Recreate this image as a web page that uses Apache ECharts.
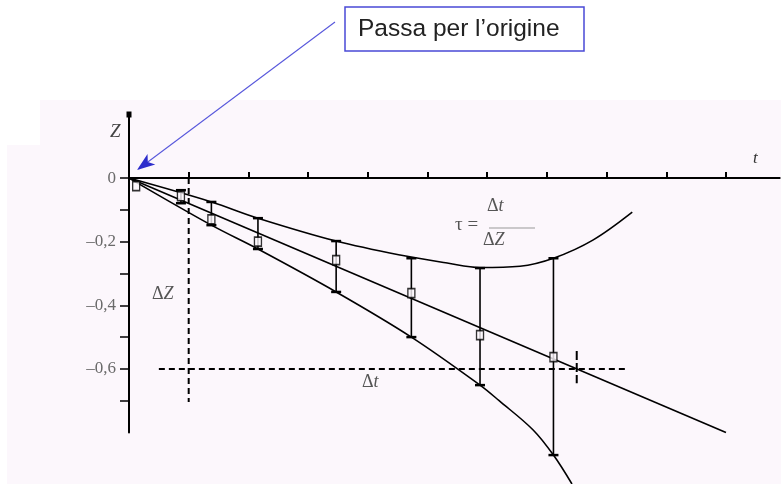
<!DOCTYPE html>
<html>
<head>
<meta charset="utf-8">
<script src="https://cdn.jsdelivr.net/npm/echarts@6/dist/echarts.min.js"></script>
<style>
  html, body { margin: 0; padding: 0; background: #ffffff; }
  #chart { width: 781px; height: 484px; }
</style>
</head>
<body>
<div id="chart"></div>
<script>
// Measured points (t, Z) with their uncertainty range
const tObs  = [0.12, 0.87, 1.38, 2.16, 3.47, 4.73, 5.88, 7.11];
const zObs  = [-0.025, -0.057, -0.13, -0.20, -0.258, -0.362, -0.494, -0.563];
const zHigh = [null, -0.038, -0.075, -0.126, -0.198, -0.252, -0.283, -0.252];
const zLow  = [null, -0.079, -0.148, -0.223, -0.358, -0.50, -0.651, -0.871];

// Best-fit straight line through the origin
const tFit = [0, 10];
const zFit = [0, -0.8];

// Upper envelope of the error bars
const tUpper = [0, 1.38, 2.16, 3.47, 4.54, 5.33, 5.88, 6.55, 7.11, 7.77, 8.43];
const zUpper = [0, -0.075, -0.126, -0.198, -0.242, -0.267, -0.281, -0.277, -0.252, -0.195, -0.107];

// Lower envelope of the error bars
const tLower = [0, 1.38, 2.16, 3.47, 4.73, 5.88, 6.2, 6.77, 7.11, 7.42];
const zLower = [0, -0.148, -0.223, -0.358, -0.50, -0.651, -0.70, -0.792, -0.871, -0.962];

// Construction lines for the slope triangle
const tDeltaZ = [1, 1];        const zDeltaZ = [0, -0.704];
const tDeltaT = [0.5, 8.34];   const zDeltaT = [-0.6, -0.6];
const tCross  = [7.5, 7.5];    const zCross  = [-0.544, -0.645];

// Axis ticks and labels
const xTickValues = [1, 2, 3, 4, 5, 6, 7, 8, 9, 10];
const yTickValues = [0, -0.1, -0.2, -0.3, -0.4, -0.5, -0.6, -0.7];
const yLabelValues = [0, -0.2, -0.4, -0.6];
const yLabelTexts  = ['0', '\u20130,2', '\u20130,4', '\u20130,6'];

const pairs = (xs, ys) => xs.map((x, i) => [x, ys[i]]);
const serif = '"Liberation Serif", "DejaVu Serif", serif';
const richItalic = { i: { fontStyle: 'italic', fontSize: 18, fontFamily: serif, fill: '#555' } };

const chart = echarts.init(document.getElementById('chart'), null, { renderer: 'canvas' });

const errorData = tObs.map((t, i) => [t, zHigh[i], zLow[i]]).filter(d => d[1] !== null);

const option = {
  backgroundColor: '#ffffff',
  animation: false,
  grid: { left: 129, top: 114.5, width: 650.7, height: 318 },
  xAxis: {
    type: 'value', min: 0, max: 10.9,
    axisLine: { onZero: true, lineStyle: { color: '#000', width: 2 } },
    axisTick: { inside: true, length: 6, lineStyle: { color: '#000', width: 2 }, customValues: xTickValues },
    axisLabel: { show: false },
    splitLine: { show: false }
  },
  yAxis: {
    type: 'value', min: -0.8, max: 0.2,
    axisLine: { onZero: false, symbol: ['none', 'rect'], symbolSize: [5, 6], lineStyle: { color: '#000', width: 2 } },
    axisTick: { length: 9, lineStyle: { color: '#000', width: 1.5 }, customValues: yTickValues },
    axisLabel: {
      margin: 13, color: '#6a6a6a', fontFamily: serif, fontSize: 17,
      customValues: yLabelValues,
      formatter: v => {
        const i = yLabelValues.findIndex(u => Math.abs(u - v) < 1e-6);
        return i >= 0 ? yLabelTexts[i] : '';
      }
    },
    splitLine: { show: false }
  },
  series: [
    {
      type: 'line', data: pairs(tUpper, zUpper), smooth: 0.35, symbol: 'none', clip: false,
      lineStyle: { color: '#000', width: 1.6 }
    },
    {
      type: 'line', data: pairs(tLower, zLower), smooth: 0.35, symbol: 'none', clip: false,
      lineStyle: { color: '#000', width: 1.6 }
    },
    {
      type: 'line', data: pairs(tFit, zFit), symbol: 'none', clip: false,
      lineStyle: { color: '#000', width: 1.6 }
    },
    {
      type: 'line', data: pairs(tDeltaZ, zDeltaZ), symbol: 'none', clip: false,
      lineStyle: { color: '#000', width: 2, type: [6, 4] }
    },
    {
      type: 'line', data: pairs(tDeltaT, zDeltaT), symbol: 'none', clip: false,
      lineStyle: { color: '#000', width: 2, type: [6, 4] }
    },
    {
      type: 'line', data: pairs(tCross, zCross), symbol: 'none', clip: false,
      lineStyle: { color: '#000', width: 2, type: [9, 3] }
    },
    {
      type: 'custom', clip: false, z: 3,
      data: errorData,
      renderItem: (params, api) => {
        const t = api.value(0);
        const top = api.coord([t, api.value(1)]);
        const bot = api.coord([t, api.value(2)]);
        const w = 5;
        return {
          type: 'group',
          children: [
            { type: 'line', shape: { x1: top[0], y1: top[1], x2: bot[0], y2: bot[1] },
              style: { stroke: '#000', lineWidth: 1.6 } },
            { type: 'line', shape: { x1: top[0] - w, y1: top[1], x2: top[0] + w, y2: top[1] },
              style: { stroke: '#000', lineWidth: 2.5 } },
            { type: 'line', shape: { x1: bot[0] - w, y1: bot[1], x2: bot[0] + w, y2: bot[1] },
              style: { stroke: '#000', lineWidth: 2.5 } }
          ]
        };
      }
    },
    {
      type: 'scatter', z: 5, data: pairs(tObs, zObs),
      symbol: 'rect', symbolSize: [7, 9],
      itemStyle: { color: '#fdf8fd', borderColor: '#000', borderWidth: 1.5 }
    }
  ],
  graphic: [
    // faint paper background behind the plot
    { type: 'rect', z: -10, shape: { x: 40, y: 100, width: 741, height: 384 }, style: { fill: '#fcf7fc' } },
    { type: 'rect', z: -10, shape: { x: 7, y: 145, width: 33, height: 339 }, style: { fill: '#fcf7fc' } },
    // axis names
    { type: 'text', x: 110, y: 122, style: { text: 'Z', font: 'italic 19px ' + serif, fill: '#444' } },
    { type: 'text', x: 753, y: 150, style: { text: 't', font: 'italic 17px ' + serif, fill: '#333' } },
    // slope triangle labels
    { type: 'text', x: 152, y: 285, style: { text: '\u0394{i|Z}', font: '18px ' + serif, fill: '#555', rich: richItalic } },
    { type: 'text', x: 362, y: 373, style: { text: '\u0394{i|t}', font: '18px ' + serif, fill: '#555', rich: richItalic } },
    // time constant formula
    { type: 'text', x: 455, y: 216, style: { text: '\u03c4 =', font: '19px ' + serif, fill: '#555' } },
    { type: 'text', x: 487, y: 197, style: { text: '\u0394{i|t}', font: '18px ' + serif, fill: '#555', rich: richItalic } },
    { type: 'line', shape: { x1: 489, y1: 228, x2: 535, y2: 228 }, style: { stroke: '#999', lineWidth: 1 } },
    { type: 'text', x: 483, y: 231, style: { text: '\u0394{i|Z}', font: '18px ' + serif, fill: '#555', rich: richItalic } },
    // callout box
    { type: 'rect', shape: { x: 345, y: 7, width: 239, height: 44 },
      style: { fill: '#ffffff', stroke: '#4a4ad6', lineWidth: 1.5 } },
    { type: 'text', x: 358, y: 29, style: {
        text: 'Passa per l\u2019origine', font: '24.5px "Liberation Sans", Arial, sans-serif',
        fill: '#222', verticalAlign: 'middle' } }
  ]
};

chart.setOption(option);

// Arrow from the callout to the origin of the axes
const origin = chart.convertToPixel({ gridIndex: 0 }, [0, 0]);
const tip = [origin[0] + 8, origin[1] - 8];
const start = [335, 22];
const ang = Math.atan2(tip[1] - start[1], tip[0] - start[0]);
const ux = Math.cos(ang), uy = Math.sin(ang);
const nx = -uy, ny = ux;
const headLen = 18, headHalf = 6.5;
const base = [tip[0] - headLen * ux, tip[1] - headLen * uy];
const notch = [tip[0] - headLen * 0.75 * ux, tip[1] - headLen * 0.75 * uy];
chart.setOption({
  graphic: option.graphic.concat([
    { type: 'line', shape: { x1: start[0], y1: start[1], x2: notch[0], y2: notch[1] },
      style: { stroke: '#5858dc', lineWidth: 1.1 } },
    { type: 'polygon', shape: { points: [
        tip,
        [base[0] + nx * headHalf, base[1] + ny * headHalf],
        notch,
        [base[0] - nx * headHalf, base[1] - ny * headHalf]
      ] },
      style: { fill: '#2e2ecc' } }
  ])
});
</script>
</body>
</html>
